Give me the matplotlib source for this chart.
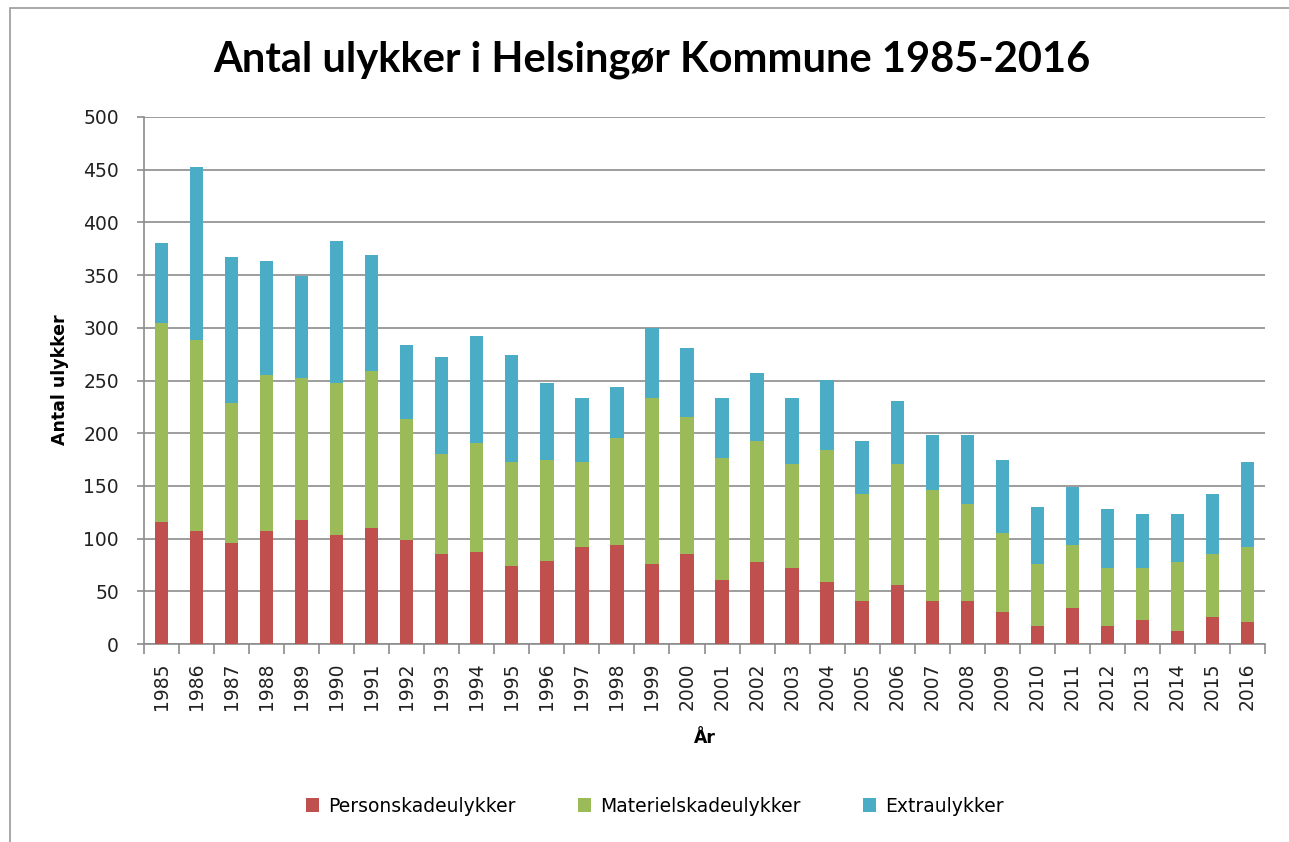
import matplotlib
matplotlib.use("Agg")
import matplotlib.pyplot as plt
from matplotlib.patches import Rectangle
import numpy as np

years = list(range(1985, 2017))
person = [116, 107, 96, 107, 118, 103, 110, 99, 85, 87, 74, 79, 92, 94, 76, 85,
          61, 78, 72, 59, 41, 56, 41, 41, 30, 17, 34, 17, 23, 12, 26, 21]
materiel = [189, 181, 133, 148, 134, 145, 149, 114, 95, 104, 99, 96, 81, 101, 157, 130,
            115, 115, 99, 125, 101, 115, 105, 92, 75, 59, 60, 55, 49, 66, 59, 71]
extra = [75, 165, 138, 108, 97, 134, 110, 71, 92, 101, 101, 73, 60, 49, 67, 66,
         57, 64, 62, 66, 51, 60, 52, 65, 70, 54, 55, 56, 51, 45, 57, 81]
series_names = ["Personskadeulykker", "Materielskadeulykker", "Extraulykker"]
colors = ["#C0504D", "#9BBB59", "#4BACC6"]

plt.rcParams['font.family'] = ['DejaVu Sans']

fig = plt.figure(figsize=(12.89, 8.42), dpi=100)
ax = fig.add_axes([144/1289, 1-644/842, (1265-144)/1289, (644-117)/842])

# chart frame
fig.patches.append(Rectangle((10/1289, -0.01), 1.0, 1-8/842+0.01, transform=fig.transFigure,
                             fill=False, edgecolor="#9a9a9a", linewidth=1.2))

x = np.arange(len(years))
p = np.array(person)
m = np.array(materiel)
e = np.array(extra)
w = 0.38
ax.bar(x, p, w, color=colors[0], label=series_names[0], zorder=3)
ax.bar(x, m, w, bottom=p, color=colors[1], label=series_names[1], zorder=3)
ax.bar(x, e, w, bottom=p + m, color=colors[2], label=series_names[2], zorder=3)

ax.set_xlim(-0.5, len(years) - 0.5)
ax.set_ylim(0, 500)
ax.set_yticks(range(0, 501, 50))
ax.yaxis.grid(True, color="#8c8c8c", linewidth=1.2, zorder=0)
ax.set_xticks(x)
ax.set_xticklabels([str(y) for y in years], rotation=90, fontsize=13.5, color="#222222")
ax.set_xticks(np.arange(-0.5, len(years), 1), minor=True)
ax.tick_params(axis='x', which='major', length=0, pad=13)
ax.tick_params(axis='x', which='minor', length=7, color="#8c8c8c", width=1.2)
ax.tick_params(axis='y', length=5, color="#8c8c8c", width=1.2, labelsize=13.5,
               labelcolor="#222222", pad=13)

for s in ["top", "right"]:
    ax.spines[s].set_visible(False)
for s in ["left", "bottom"]:
    ax.spines[s].set_color("#8c8c8c")
    ax.spines[s].set_linewidth(1.2)

fig.text(60/1289, 1-380/842, "Antal ulykker", fontsize=12.5, fontweight="bold",
         rotation=90, ha="center", va="center")
fig.text(705/1289, 1-738/842, "År", fontsize=12.5, fontweight="bold", ha="center", va="center")
fig.text(652/1289, 1-60/842, "Antal ulykker i Helsingør Kommune 1985-2016", fontsize=30,
         fontweight="bold", ha="center", va="center", family=['Lato', 'DejaVu Sans'])

fig.legend(loc="center", bbox_to_anchor=(655/1289, 1-806/842), ncol=3, frameon=False,
           fontsize=13.5, handlelength=0.7, handleheight=0.7, columnspacing=3.3, handletextpad=0.5)

fig.savefig("out.png", dpi=100)
